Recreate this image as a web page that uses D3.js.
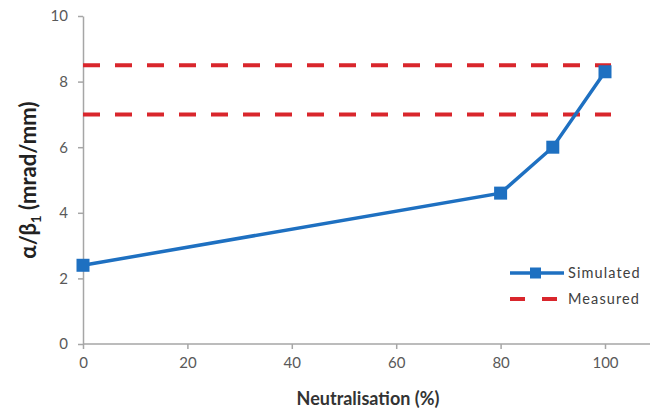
<!DOCTYPE html>
<html>
<head>
<meta charset="utf-8">
<script src="https://cdn.jsdelivr.net/npm/d3@7"></script>
<style>
  body { margin: 0; background: #fff; }
  text { font-family: Lato, "Open Sans", sans-serif; }
</style>
</head>
<body>
<svg width="650" height="411"></svg>
<script>
// simulated curve
const neutral = [0, 80, 90, 100];
const simulated = [2.4, 4.6, 6.0, 8.3];
// measured bounds (horizontal dashed lines)
const measured = [8.5, 7.0];
const xTicks = [0, 20, 40, 60, 80, 100];
const yTicks = [0, 2, 4, 6, 8, 10];

var svg = d3.select("svg");

var x = d3.scaleLinear().domain([0, 100]).range([83, 605]);
var y = d3.scaleLinear().domain([0, 10]).range([344, 16]);

//axes
var xAxis = svg.append("g")
  .attr("transform", "translate(0," + y(0) + ")")
  .call(d3.axisBottom(x).tickValues(xTicks).tickSize(5).tickPadding(8).tickSizeOuter(0));
var yAxis = svg.append("g")
  .attr("transform", "translate(" + x(0) + ",0)")
  .call(d3.axisLeft(y).tickValues(yTicks).tickSize(5).tickPadding(10).tickSizeOuter(0));

[xAxis, yAxis].forEach(function (a) {
  a.select(".domain").attr("stroke", "#a6a6a6").attr("stroke-width", 1.5);
  a.selectAll(".tick line").attr("stroke", "#a6a6a6").attr("stroke-width", 1.5);
  a.selectAll(".tick text").attr("fill", "#595959").style("font-size", "15px");
});
// x axis runs on to the right edge
xAxis.select(".domain").attr("d", "M" + x(0) + ",0H650");

//measured lines
svg.selectAll(".meas")
  .data(measured)
  .enter()
  .append("line")
  .attr("x1", x(0))
  .attr("x2", x(100) + 6)
  .attr("y1", d => y(d))
  .attr("y2", d => y(d))
  .attr("stroke", "#d9262c")
  .attr("stroke-width", 4)
  .attr("stroke-dasharray", "17,15");

//simulated line
var pts = neutral.map((n, i) => [n, simulated[i]]);
svg.append("path")
  .datum(pts)
  .attr("fill", "none")
  .attr("stroke", "#1e70c1")
  .attr("stroke-width", 3.5)
  .attr("d", d3.line().x(d => x(d[0])).y(d => y(d[1])));

svg.selectAll(".pt")
  .data(pts)
  .enter()
  .append("rect")
  .attr("x", d => x(d[0]) - 6.5)
  .attr("y", d => y(d[1]) - 6.5)
  .attr("width", 13)
  .attr("height", 13)
  .attr("fill", "#1e70c1");

//legend
var lg = svg.append("g");
lg.append("line").attr("x1", 510).attr("x2", 564).attr("y1", 273).attr("y2", 273)
  .attr("stroke", "#1e70c1").attr("stroke-width", 3.5);
lg.append("rect").attr("x", 530).attr("y", 267.5).attr("width", 11).attr("height", 11).attr("fill", "#1e70c1");
lg.append("line").attr("x1", 510).attr("x2", 564).attr("y1", 299).attr("y2", 299)
  .attr("stroke", "#d9262c").attr("stroke-width", 4).attr("stroke-dasharray", "15,17");
lg.append("text").attr("x", 568).attr("y", 278).attr("fill", "#404040")
  .style("font-size", "14.5px").style("letter-spacing", "1.1px").text("Simulated");
lg.append("text").attr("x", 568).attr("y", 304).attr("fill", "#404040")
  .style("font-size", "14.5px").style("letter-spacing", "1.1px").text("Measured");

//axis titles
svg.append("text")
  .attr("x", 368).attr("y", 405)
  .attr("text-anchor", "middle")
  .attr("fill", "#333")
  .style("font-size", "18px").style("font-weight", "bold")
  .text("Neutralisation (%)");

var yl = svg.append("text")
  .attr("transform", "translate(36,180) rotate(-90)")
  .attr("text-anchor", "middle")
  .attr("fill", "#222")
  .style("font-size", "22px").style("font-weight", "bold");
yl.append("tspan").text("α/β");
yl.append("tspan").attr("dy", 5).style("font-size", "13px").text("1");
yl.append("tspan").attr("dy", -5).text(" (mrad/mm)");
</script>
</body>
</html>
